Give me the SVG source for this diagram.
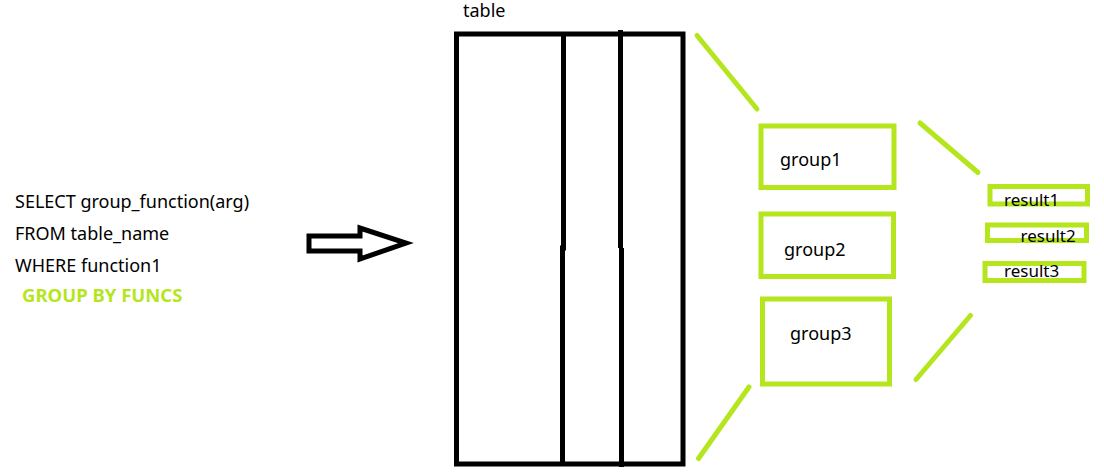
<svg xmlns="http://www.w3.org/2000/svg" width="1104" height="475" viewBox="0 0 1104 475">
<style>
text{font-family:"Noto Sans","Open Sans",sans-serif;font-size:18px;fill:#000}
.s{font-size:17px}
.g{fill:none;stroke:#b5e61d;stroke-width:5}
.gl{stroke:#b5e61d;stroke-width:5;stroke-linecap:round;fill:none}
.k{fill:none;stroke:#000;stroke-width:5}
.hl{fill:#b5e61d;font-weight:bold;font-size:18.5px}
</style>
<rect width="1104" height="475" fill="#fff"/>
<g id="query">
<text x="15" y="208">SELECT group_function(arg)</text>
<text x="15" y="240">FROM table_name</text>
<text x="15" y="272">WHERE function1</text>
<text x="22" y="302" class="hl">GROUP BY FUNCS</text>
</g>
<g id="arrow">
<polygon class="k" points="309,236 360,236 360,228 406,243 360,259 360,251 309,251"/>
</g>
<g id="table">
<text x="463" y="17">table</text>
<rect class="k" x="456.5" y="34" width="226.5" height="430"/>
<polyline class="k" points="563.5,34 563.5,248 562.5,248 562.5,464"/>
<line class="k" x1="620.5" y1="30" x2="620.5" y2="248"/>
<line class="k" x1="621.5" y1="248" x2="621.5" y2="467"/>
</g>
<g id="group1">
<rect class="g" x="761" y="126" width="133" height="61.5"/>
<text x="780" y="166">group1</text>
</g>
<g id="group2">
<rect class="g" x="761" y="214" width="132.5" height="62.5"/>
<text x="784" y="256">group2</text>
</g>
<g id="group3">
<rect class="g" x="762.5" y="299" width="127" height="85"/>
<text x="790" y="340">group3</text>
</g>
<g id="result1">
<rect class="g" x="990" y="186.5" width="97.5" height="17.5"/>
<text class="s" x="1004" y="206">result1</text>
</g>
<g id="result2">
<rect class="g" x="987.5" y="225" width="99" height="15.5"/>
<text class="s" x="1020.5" y="242">result2</text>
</g>
<g id="result3">
<rect class="g" x="985" y="263.5" width="99" height="17"/>
<text class="s" x="1004" y="277">result3</text>
</g>
<g id="connectors">
<line class="gl" x1="697" y1="35.5" x2="757" y2="109"/>
<line class="gl" x1="749" y1="387" x2="698.5" y2="458.5"/>
<line class="gl" x1="920" y1="123" x2="978" y2="172.5"/>
<line class="gl" x1="970.5" y1="315.5" x2="916" y2="379.5"/>
</g>
</svg>
